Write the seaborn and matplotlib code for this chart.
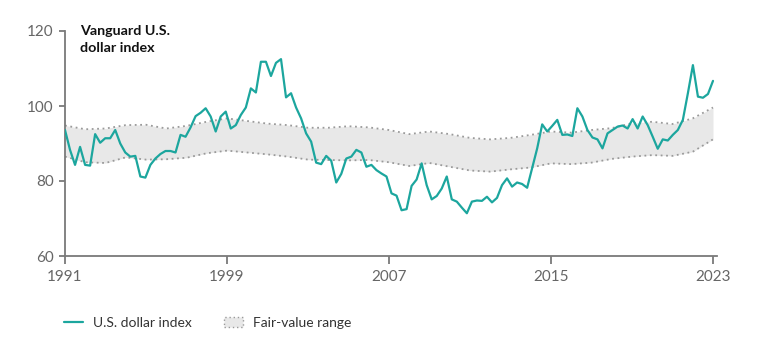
import numpy as np
import pandas as pd
import matplotlib
matplotlib.use("Agg")
import matplotlib.pyplot as plt
from matplotlib.lines import Line2D
from matplotlib.patches import Patch
import seaborn as sns

# ---- data ----
usd_index = [93.6, 88.3, 84.3, 89.1, 84.3, 84.1, 92.5, 90.2, 91.4, 91.4,
             93.6, 90.0, 87.6, 86.5, 86.7, 81.2, 80.9, 84.3, 86.0, 87.2,
             88.0, 88.0, 87.6, 92.3, 91.8, 94.3, 97.3, 98.2, 99.4, 97.2,
             93.2, 97.2, 98.5, 94.0, 94.9, 97.6, 99.6, 104.7, 103.6, 111.8,
             111.8, 108.0, 111.5, 112.5, 102.3, 103.4, 99.6, 96.7, 92.7, 90.5,
             84.9, 84.5, 86.7, 85.4, 79.6, 81.9, 86.0, 86.5, 88.3, 87.6,
             83.8, 84.3, 82.9, 82.0, 81.2, 76.7, 76.1, 72.2, 72.5, 78.7,
             80.4, 84.7, 78.9, 75.1, 76.0, 78.0, 81.2, 75.1, 74.5, 72.9,
             71.4, 74.5, 74.8, 74.7, 75.8, 74.3, 75.5, 78.9, 80.7, 78.5,
             79.6, 79.2, 78.2, 83.4, 88.7, 95.1, 93.2, 94.7, 96.3, 92.3,
             92.4, 92.0, 99.4, 97.2, 93.6, 91.6, 91.1, 88.7, 92.7, 93.6,
             94.5, 94.8, 94.0, 96.5, 94.0, 97.2, 94.9, 91.8, 88.6, 91.1,
             90.8, 92.3, 93.6, 96.3, 103.4, 110.9, 102.5, 102.2, 103.2, 106.7]

band_years = list(range(1991, 2024))
band_upper = [94.8, 93.8, 94.0, 94.9, 95.0, 94.0, 94.7, 95.8, 96.7, 96.0,
              95.3, 94.9, 94.2, 94.2, 94.6, 94.3, 93.6, 92.5, 93.2, 92.5,
              91.5, 91.1, 91.5, 92.3, 93.2, 92.9, 93.6, 94.1, 95.4, 95.8,
              95.2, 96.7, 99.6]
band_lower = [86.5, 85.0, 84.8, 86.3, 85.7, 85.8, 86.2, 87.4, 88.1, 87.6,
              87.1, 86.5, 85.7, 85.6, 85.5, 85.6, 85.0, 84.0, 84.8, 83.8,
              82.8, 82.5, 83.1, 83.6, 84.7, 84.5, 84.9, 85.9, 86.5, 86.9,
              86.7, 87.8, 91.1]

x_ticks = [1991, 1999, 2007, 2015, 2023]
y_ticks = [60, 80, 100, 120]

usd_df = pd.DataFrame({"year": np.linspace(1991, 2023, len(usd_index)),
                       "value": usd_index})
band_df = pd.DataFrame({"year": band_years, "upper": band_upper, "lower": band_lower})

# ---- style ----
sns.set_theme(style="white")
plt.rcParams["font.family"] = ["Lato", "DejaVu Sans"]

teal = "#1ca69e"
axis_gray = "#7a7a7a"
text_gray = "#666666"

fig = plt.figure(figsize=(7.68, 3.45), dpi=100)
ax = fig.add_axes([65 / 768, 89 / 345, (717 - 65) / 768, (314 - 89) / 345])

ax.fill_between(band_df["year"], band_df["lower"], band_df["upper"],
                color="#e8e8e8", linewidth=0, zorder=1)
sns.lineplot(data=band_df, x="year", y="upper", ax=ax, color="#9a9a9a",
             linestyle=(0, (1, 2)), linewidth=1.3, zorder=2)
sns.lineplot(data=band_df, x="year", y="lower", ax=ax, color="#9a9a9a",
             linestyle=(0, (1, 2)), linewidth=1.3, zorder=2)
sns.lineplot(data=usd_df, x="year", y="value", ax=ax, color=teal,
             linewidth=1.6, zorder=3)

ax.set_xlim(1991, 1991 + (717 - 65) / 20.25)
ax.set_ylim(60, 120)
ax.set_xticks(x_ticks)
ax.set_xticklabels([str(t) for t in x_ticks])
ax.set_yticks(y_ticks)
ax.set_yticklabels([str(t) for t in y_ticks])
ax.set_xlabel("")
ax.set_ylabel("")

for side in ["top", "right"]:
    ax.spines[side].set_visible(False)
for side in ["left", "bottom"]:
    ax.spines[side].set_color(axis_gray)
    ax.spines[side].set_linewidth(1.3)

ax.tick_params(axis="both", colors=axis_gray, labelcolor=text_gray,
               labelsize=11, width=1.3)
ax.tick_params(axis="x", direction="out", length=6, pad=4, bottom=True)
ax.tick_params(axis="y", direction="out", length=4, pad=4, left=True)

fig.text(80 / 768, 1 - 25 / 345, "Vanguard U.S.\ndollar index",
         fontsize=10.3, fontweight="bold", color="#111111", va="top", ha="left",
         linespacing=1.45)

handles = [Line2D([0], [0], color=teal, linewidth=1.6),
           Patch(facecolor="#e8e8e8", edgecolor="#9a9a9a", linestyle=(0, (1, 2)),
                 linewidth=1.0)]
labels = ["U.S. dollar index", "Fair-value range"]
leg = fig.legend(handles, labels, loc="center left",
                 bbox_to_anchor=(64 / 768, 1 - 323 / 345), ncol=2, frameon=False,
                 borderpad=0, borderaxespad=0,
                 fontsize=10, handlelength=1.37, handletextpad=0.72, columnspacing=2.3,
                 labelcolor="#333333")

fig.savefig("out.png", dpi=100)
